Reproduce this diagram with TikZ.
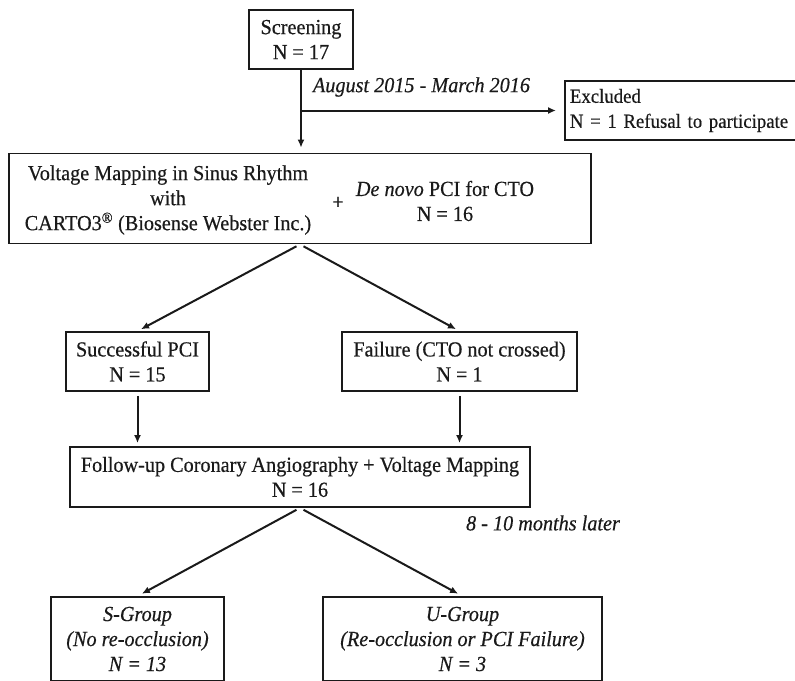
\documentclass[tikz,border=0pt]{standalone}
\usepackage{fontspec}
\setmainfont{Liberation Serif}[FakeStretch=0.94, FakeBold=0.4]
\usepackage{xcolor}
\usepackage{tikz}
\usetikzlibrary{calc,arrows.meta}
\definecolor{bg}{HTML}{FFFFFF}
\definecolor{ink}{HTML}{1A1A1A}
\newcommand{\flowfont}{\fontsize{21.5}{25}\selectfont}
\tikzset{
  box/.style={draw=ink, line width=1.8pt, text=ink, font=\flowfont, align=center, inner sep=0pt},
  txt/.style={text=ink, font=\flowfont, align=center, inner sep=0pt},
  arr/.style={draw=ink, line width=2pt, -{Latex[length=8pt,width=7pt]}},
  tag/.style={text=ink, font=\flowfont\itshape, inner sep=0pt}
}
\begin{document}
\begin{tikzpicture}[x=1pt,y=-1pt]
  \useasboundingbox (0,0) rectangle (795,680);
  \clip (0,0) rectangle (795,680);
  \fill[bg] (0,0) rectangle (795,680);

  % screening and exclusion
  \node[box, minimum width=104pt, minimum height=59pt] (screen) at (301,39.5) {Screening\\N = 17};
  \node[box, anchor=west, text width=250pt, align=left, inner xsep=5pt, minimum height=59pt,
    font=\fontsize{20}{25}\selectfont] (excl) at (564,110.5)
    {Excluded\\N = 1 Refusal to participate};
  \node[tag] (period) at (421.5,87) {August 2015 - March 2016};

  % mapping + de novo PCI
  \node[box, minimum width=582pt, minimum height=90pt] (map) at (300,198.5) {};
  \node[txt] (maptxt) at (168,200)
    {Voltage Mapping in Sinus Rhythm\\with\\CARTO3\textsuperscript{\textregistered} (Biosense Webster Inc.)};
  \node[txt] (plus) at (338,203) {+};
  \node[txt] (pcitxt) at (445,201) {\textit{De novo} PCI for CTO\\N = 16};

  % result of the PCI
  \node[box, minimum width=143pt, minimum height=59pt] (succ) at (137.5,361.5) {Successful PCI\\N = 15};
  \node[box, minimum width=235pt, minimum height=59pt] (fail) at (459.5,361.5) {Failure (CTO not crossed)\\N = 1};
  \node[box, minimum width=460pt, minimum height=60pt] (follow) at (300,477)
    {Follow-up Coronary Angiography + Voltage Mapping\\N = 16};
  \node[tag] (delay) at (543,523) {8 - 10 months later};

  % groups, cut by the lower edge
  \node[box, font=\flowfont\itshape, minimum width=173pt, minimum height=84pt] (sgrp) at (137.5,639)
    {S-Group\\(No re-occlusion)\\N = 13};
  \node[box, font=\flowfont\itshape, minimum width=279pt, minimum height=84pt] (ugrp) at (462.5,639)
    {U-Group\\(Re-occlusion or PCI Failure)\\N = 3};

  % connectors
  \coordinate (split) at (screen.south |- excl.west);
  \draw[arr, shorten >=5pt] (screen.south) -- (screen.south |- map.north);
  \draw[arr, shorten >=8pt] (split) -- (excl.west);
  \draw[arr, shorten <=4pt, shorten >=4pt] (map.south) -- (succ.north);
  \draw[arr, shorten <=4pt, shorten >=4pt] (map.south) -- (fail.north);
  \draw[arr, shorten <=4pt, shorten >=3pt] (succ.south) -- (succ.south |- follow.north);
  \draw[arr, shorten <=4pt, shorten >=3pt] (fail.south) -- (fail.south |- follow.north);
  \draw[arr, shorten <=4pt, shorten >=5pt] (follow.south) -- (sgrp.north);
  \draw[arr, shorten <=4pt, shorten >=5pt] (follow.south) -- (ugrp.north);
\end{tikzpicture}
\end{document}
